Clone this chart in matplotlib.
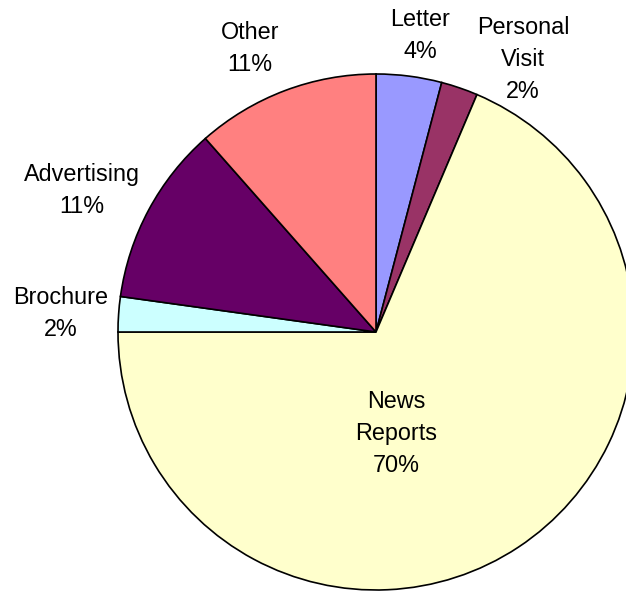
import matplotlib
matplotlib.use("Agg")
import matplotlib.pyplot as plt

plt.rcParams['font.family'] = ['Liberation Sans', 'DejaVu Sans']

categories = ["Letter", "Personal\nVisit", "News\nReports", "Brochure", "Advertising", "Other"]
values = [4.1, 2.3, 68.6, 2.2, 11.3, 11.5]
pct_labels = ["4%", "2%", "70%", "2%", "11%", "11%"]
colors = ["#9999FF", "#993366", "#FFFFCC", "#CCFFFF", "#660066", "#FF8080"]

# label positions (in pie-radius units, pie centred at 0,0)
label_pos = [(0.171, 1.150), (0.570, 1.055), (0.078, -0.395),
             (-1.221, 0.073), (-1.140, 0.550), (-0.488, 1.097)]

fig = plt.figure(figsize=(6.26, 5.91), dpi=100)
ax = fig.add_axes([0, 0, 1, 1])
ax.pie(values, colors=colors, startangle=90, counterclock=False,
       wedgeprops=dict(edgecolor="black", linewidth=1.2), radius=1.0)

for cat, pct, (x, y) in zip(categories, pct_labels, label_pos):
    ax.text(x, y, f"{cat}\n{pct}", ha="center", va="center", fontsize=16.8,
            linespacing=1.5, color="black")

ax.set_aspect('auto')
ax.set_xlim(-376 / 258, (626 - 376) / 258)
ax.set_ylim(-(591 - 332) / 258, 332 / 258)
ax.axis('off')
fig.savefig("out.png", dpi=100)
